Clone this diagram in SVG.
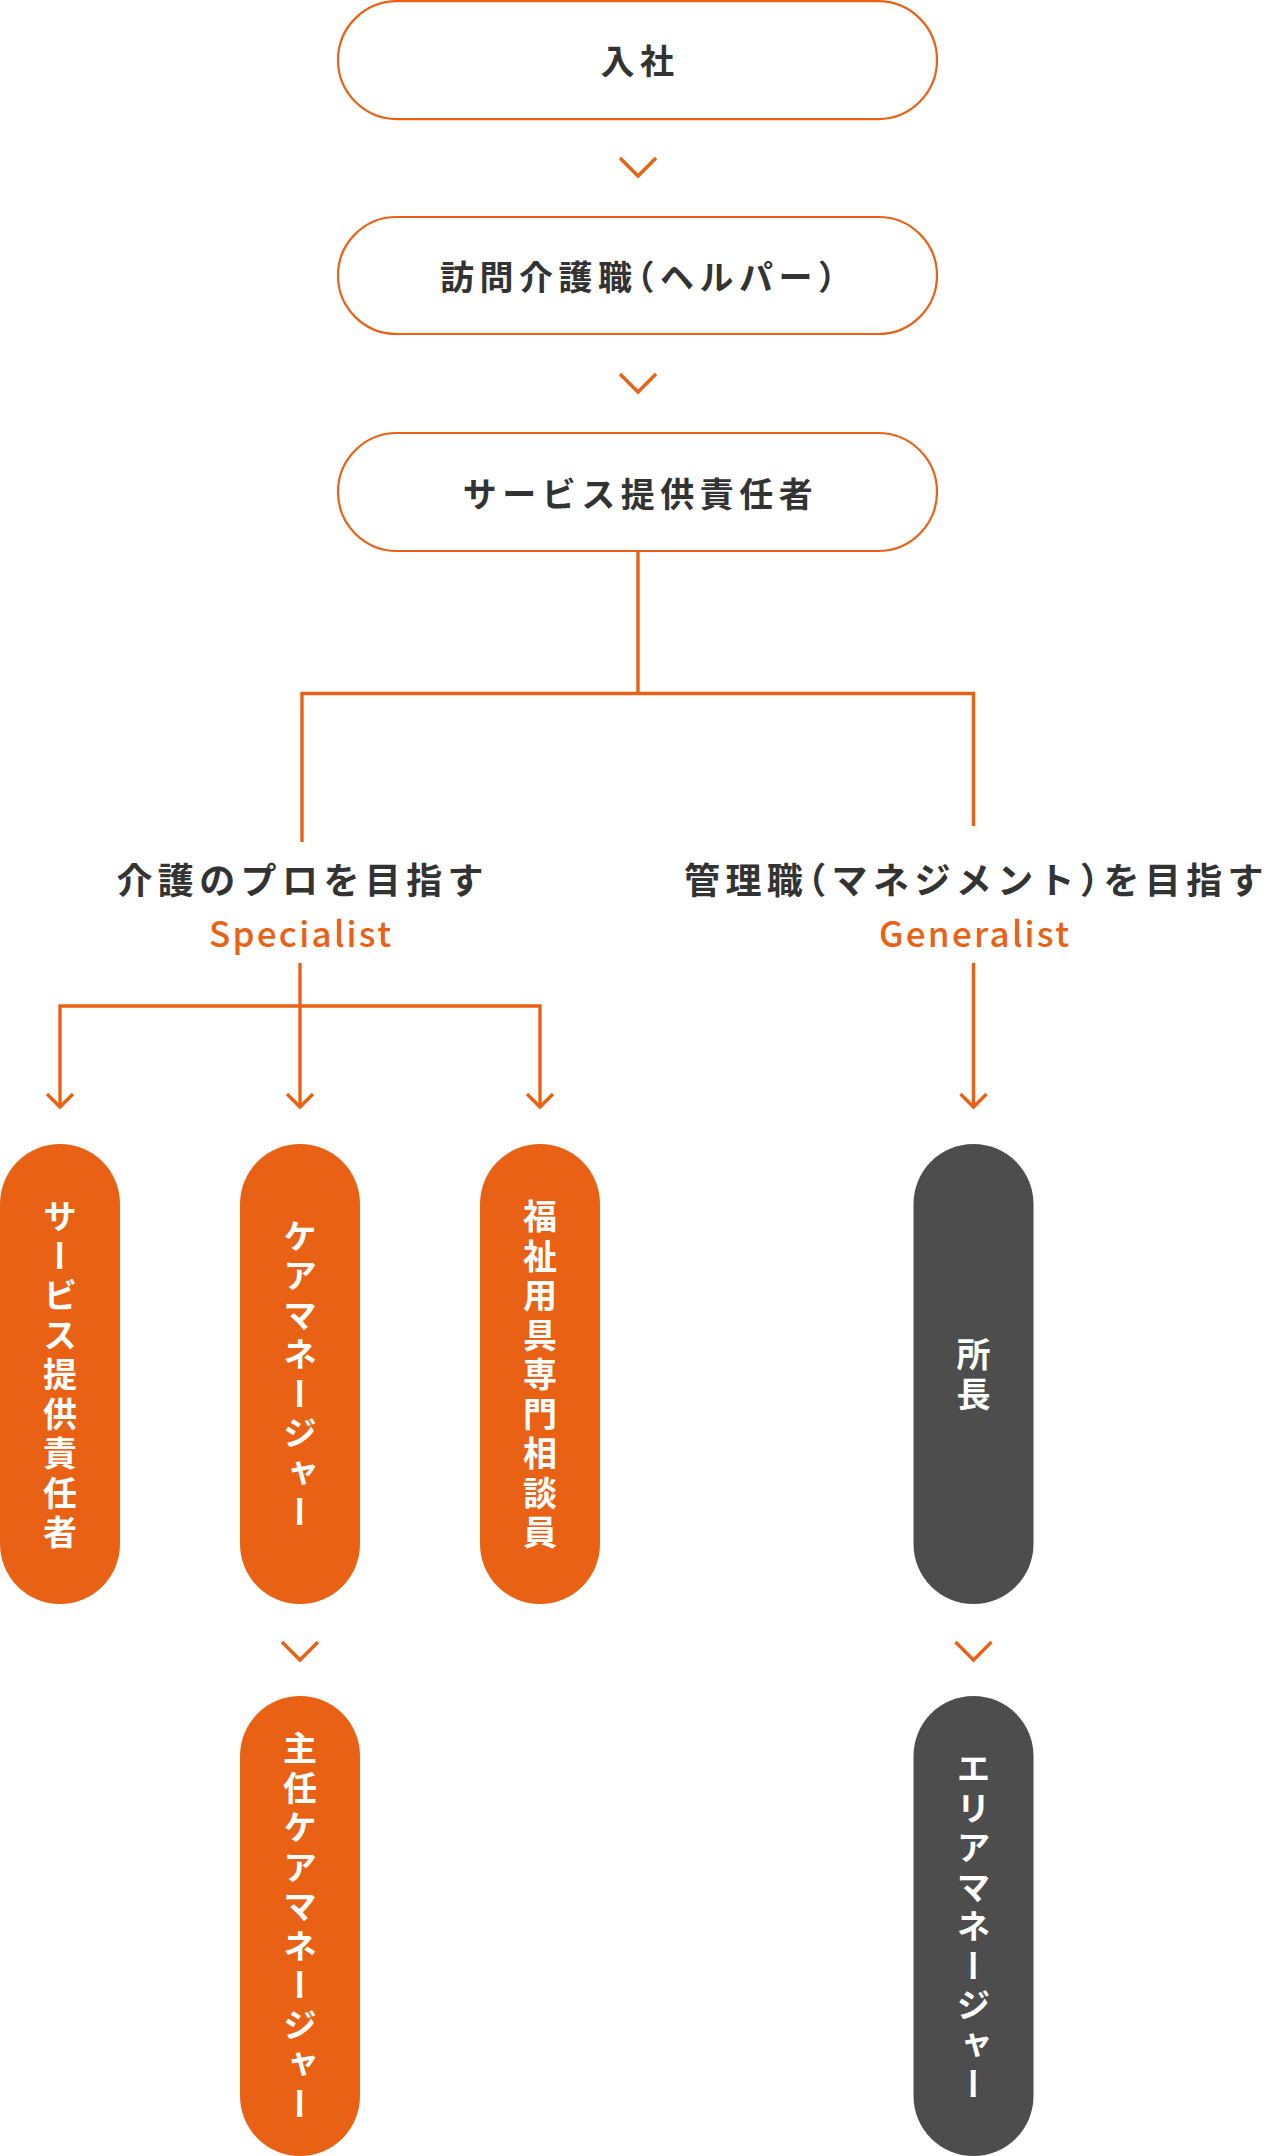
<svg xmlns="http://www.w3.org/2000/svg" width="1270" height="2156" viewBox="0 0 1270 2156">
<style>
.box{fill:#fff;stroke:#E96115;stroke-width:2.2}
.pill-o{fill:#E96115}
.pill-g{fill:#4D4D4D}
.ln{fill:none;stroke:#E96115;stroke-width:3.4}
.chev{fill:none;stroke:#E96115;stroke-width:3.4;stroke-linecap:butt;stroke-linejoin:miter}
.bt{font-family:"Noto Sans CJK JP","Noto Sans",sans-serif;font-size:34px;font-weight:700;fill:#333;letter-spacing:5.5px}
.lb{font-family:"Noto Sans CJK JP","Noto Sans",sans-serif;font-size:36px;font-weight:700;fill:#333;letter-spacing:5.4px}
.halt{font-feature-settings:"halt"}
.en{font-family:"Noto Sans CJK JP","Noto Sans",sans-serif;font-size:35px;font-weight:500;fill:#E96115}
.vt{font-family:"Noto Sans CJK JP","Noto Sans",sans-serif;font-size:34px;font-weight:700;fill:#fff;letter-spacing:5.5px;writing-mode:vertical-rl;text-anchor:middle}
</style>
<rect width="1270" height="2156" fill="#fff"/>
<g id="connectors">
<polyline class="chev" points="620,158 638,176 656,158"/>
<polyline class="chev" points="620,374 638,392 656,374"/>
<polyline class="ln" points="638,551 638,693.5"/>
<polyline class="ln" points="302,842 302,693.5 973.5,693.5 973.5,826"/>
<polyline class="ln" points="300,963 300,1108"/>
<polyline class="ln" points="60,1108 60,1006 540,1006 540,1108"/>
<polyline class="chev" points="47,1094 60,1107 73,1094"/>
<polyline class="chev" points="287,1094 300,1107 313,1094"/>
<polyline class="chev" points="527,1094 540,1107 553,1094"/>
<polyline class="ln" points="973.5,963 973.5,1108"/>
<polyline class="chev" points="960.5,1094 973.5,1107 986.5,1094"/>
<polyline class="chev" points="282,1642 300,1660 318,1642"/>
<polyline class="chev" points="955.5,1642 973.5,1660 991.5,1642"/>
</g>
<g id="node-nyusha">
<rect class="box" x="338" y="1.1" width="599" height="118" rx="59"/>
<text class="bt" x="640" y="74" text-anchor="middle">入社</text>
</g>
<g id="node-helper">
<rect class="box" x="338" y="217" width="599" height="117" rx="58.5"/>
<text class="bt halt" x="440" y="290">訪問介護職（ヘルパー）</text>
</g>
<g id="node-service">
<rect class="box" x="338" y="433" width="599" height="118" rx="59"/>
<text class="bt" x="640.5" y="507" text-anchor="middle">サービス提供責任者</text>
</g>
<g id="label-specialist">
<text class="lb" x="302.7" y="894" text-anchor="middle">介護のプロを目指す</text>
<text class="en" x="300" y="946.5" text-anchor="middle" textLength="182" lengthAdjust="spacing">Specialist</text>
</g>
<g id="label-generalist">
<text class="lb halt" x="684" y="894">管理職（マネジメント）を目指す</text>
<text class="en" x="974" y="946.5" text-anchor="middle" textLength="190" lengthAdjust="spacing">Generalist</text>
</g>
<g id="node-sp-service">
<rect class="pill-o" x="0" y="1144" width="120" height="460" rx="60"/>
<text class="vt" x="60" y="1377">サービス提供責任者</text>
</g>
<g id="node-caremanager">
<rect class="pill-o" x="240" y="1144" width="120" height="460" rx="60"/>
<text class="vt" x="300" y="1377">ケアマネージャー</text>
</g>
<g id="node-fukushi">
<rect class="pill-o" x="480" y="1144" width="120" height="460" rx="60"/>
<text class="vt" x="540" y="1377">福祉用具専門相談員</text>
</g>
<g id="node-shocho">
<rect class="pill-g" x="913.5" y="1144" width="120" height="460" rx="60"/>
<text class="vt" x="973.5" y="1377">所長</text>
</g>
<g id="node-shunin">
<rect class="pill-o" x="240" y="1696" width="120" height="460" rx="60"/>
<text class="vt" x="300" y="1929">主任ケアマネージャー</text>
</g>
<g id="node-area">
<rect class="pill-g" x="913.5" y="1696" width="120" height="460" rx="60"/>
<text class="vt" x="973.5" y="1929">エリアマネージャー</text>
</g>
</svg>
